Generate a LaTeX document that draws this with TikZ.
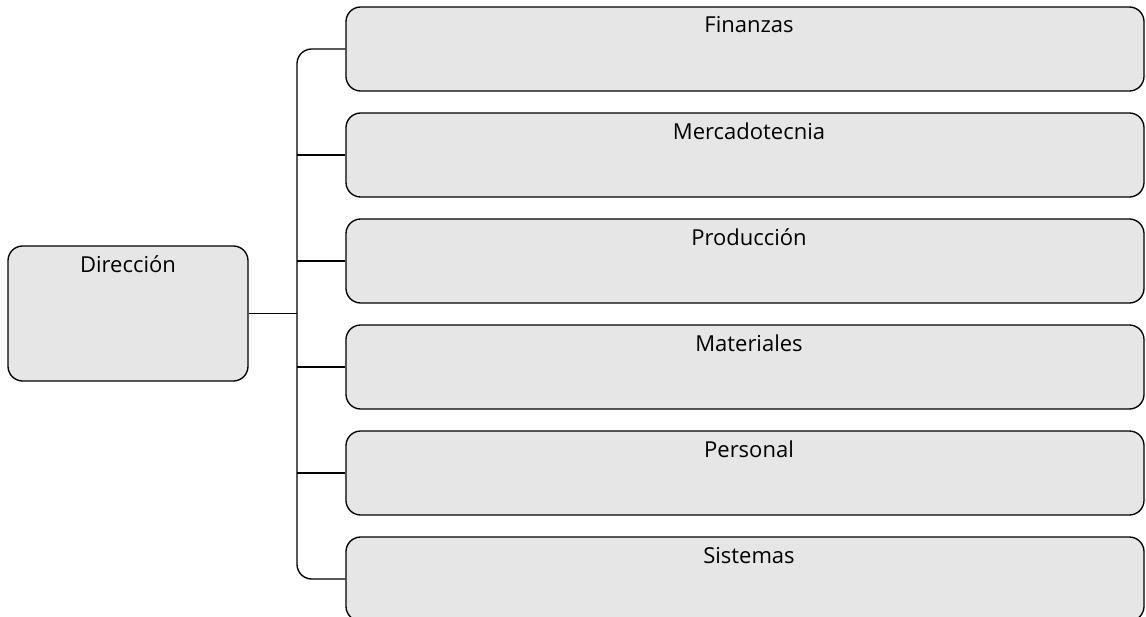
\documentclass[tikz,border=0pt]{standalone}
\usepackage{fontspec}
\setmainfont{Open Sans}
\definecolor{boxfill}{HTML}{E6E6E6}
\begin{document}
\begin{tikzpicture}[x=0.75pt,y=-0.75pt,
  boxstyle/.style={draw=black, line width=1pt, fill=boxfill, rounded corners=11pt, inner sep=0pt},
  lbl/.style={font=\fontsize{16.5}{19}\selectfont, inner sep=0pt, anchor=base},
  conn/.style={draw=black, line width=1pt}]
\useasboundingbox (0,0) rectangle (1146,617);
% Direccion
\node[boxstyle, minimum width=240*0.75pt, minimum height=135*0.75pt] (dir) at (128,313.5) {};
\node[lbl] (dirt) at (128,272) {Dirección};
% right boxes
\foreach \n/\t/\yy in {b1/Finanzas/49, b2/Mercadotecnia/155, b3/Producción/261, b4/Materiales/367, b5/Personal/473, b6/Sistemas/579}{
  \node[boxstyle, minimum width=798*0.75pt, minimum height=84*0.75pt] (\n) at (745,\yy) {};
  \node[lbl] (\n t) at (749,\yy-16) {\t};
}
\coordinate (top) at (297,49);
\coordinate (bot) at (297,579);
\coordinate (mid) at (297,313.5);
\draw[conn, rounded corners=11pt] (b1.west) -- (top) -- (bot) -- (b6.west);
\foreach \n/\yy in {b2/155, b3/261, b4/367, b5/473}{
  \draw[conn] (297,\yy) -- (\n.west);
}
\draw[conn] (dir.east) -- (mid);
\end{tikzpicture}
\end{document}
